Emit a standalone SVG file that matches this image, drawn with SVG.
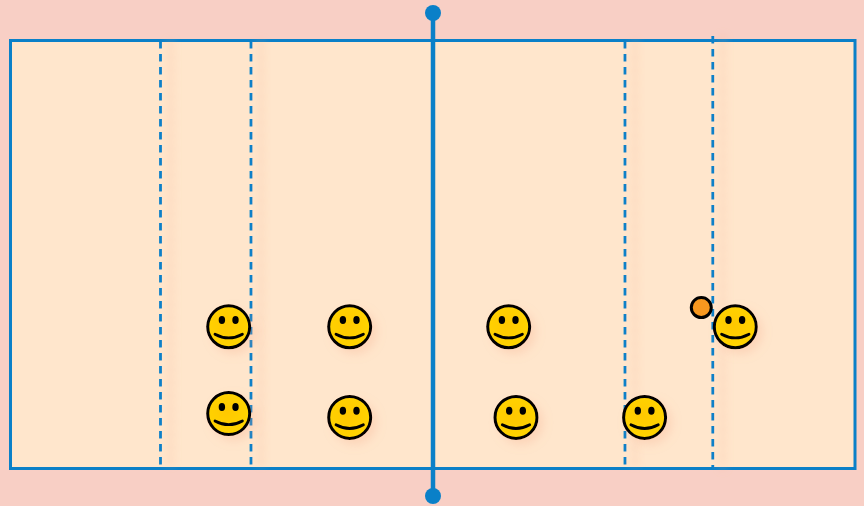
<svg xmlns="http://www.w3.org/2000/svg" width="864" height="506" viewBox="0 0 864 506">
<style>
.court{fill:#ffe6cc;stroke:#0a80c8;stroke-width:3}
.dash{fill:none;stroke:#0a80c8;stroke-width:2.8;stroke-dasharray:7.6 5.4;filter:url(#lineShadow)}
.net{stroke:#0a80c8;stroke-width:4.5;fill:none}
.cap{fill:#0a80c8}
.head{fill:url(#face);stroke:#000;stroke-width:3}
.eye{fill:#000}
.mouth{fill:none;stroke:#000;stroke-width:2.8;stroke-linecap:round}
.ball{fill:#f7981f;stroke:#000;stroke-width:3}
.player{filter:url(#faceShadow)}
</style>
<defs>
<radialGradient id="face" cx="0.45" cy="0.45" r="0.6">
<stop offset="0" stop-color="#ffc800"/><stop offset="1" stop-color="#ffd500"/>
</radialGradient>
<filter id="lineShadow" filterUnits="userSpaceOnUse" x="0" y="0" width="864" height="506">
<feGaussianBlur in="SourceAlpha" stdDeviation="5"/>
<feOffset dx="10" dy="0"/>
<feComponentTransfer result="s"><feFuncA type="linear" slope="1.6"/></feComponentTransfer>
<feFlood flood-color="#f8b090" flood-opacity="0.5"/>
<feComposite in2="s" operator="in"/>
<feMerge><feMergeNode/><feMergeNode in="SourceGraphic"/></feMerge>
</filter>
<filter id="faceShadow" x="-40%" y="-40%" width="190%" height="190%">
<feDropShadow dx="5" dy="5" stdDeviation="5" flood-color="#f4a080" flood-opacity="0.25"/>
</filter>
<g id="smiley">
<circle class="head" cx="0" cy="0" r="21"/>
<ellipse class="eye" cx="-6.8" cy="-6.7" rx="3.2" ry="4"/>
<ellipse class="eye" cx="6.8" cy="-6.7" rx="3.2" ry="4"/>
<path class="mouth" d="M-13.7 7.4Q0 14.8 13.7 7.4"/>
</g>
</defs>
<rect id="background" width="864" height="506" fill="#f8cfc5"/>
<rect id="court" class="court" x="10.5" y="40.5" width="844.5" height="428"/>
<g id="connectors">
<line class="dash" x1="160.5" y1="41" x2="160.5" y2="469"/>
<line class="dash" x1="251" y1="41" x2="251" y2="469"/>
<line class="dash" x1="625" y1="41" x2="625" y2="469"/>
<line class="dash" x1="712.8" y1="36" x2="712.8" y2="469"/>
<line class="net" x1="433" y1="13" x2="433" y2="496"/>
</g>
<g id="net-top"><circle class="cap" cx="433" cy="13" r="8"/></g>
<g id="net-bottom"><circle class="cap" cx="433" cy="496" r="8"/></g>
<g id="player-1" class="player"><use href="#smiley" x="228.7" y="326.8"/></g>
<g id="player-2" class="player"><use href="#smiley" x="349.7" y="326.8"/></g>
<g id="player-3" class="player"><use href="#smiley" x="508.7" y="326.8"/></g>
<g id="player-4" class="player"><use href="#smiley" x="735.3" y="326.8"/></g>
<g id="player-5" class="player"><use href="#smiley" x="228.7" y="413.6"/></g>
<g id="player-6" class="player"><use href="#smiley" x="349.7" y="417.4"/></g>
<g id="player-7" class="player"><use href="#smiley" x="516" y="417.4"/></g>
<g id="player-8" class="player"><use href="#smiley" x="644.6" y="417.4"/></g>
<g id="ball"><circle class="ball" cx="701.3" cy="307.6" r="10"/></g>
</svg>
